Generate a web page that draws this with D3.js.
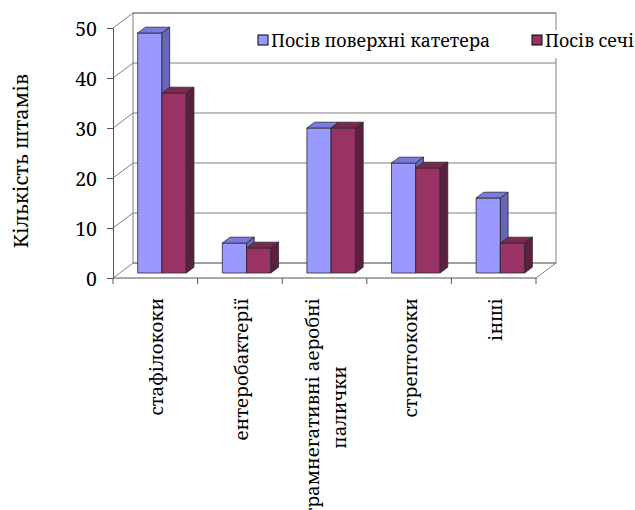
<!DOCTYPE html>
<html><head><meta charset="utf-8">
<script src="https://cdn.jsdelivr.net/npm/d3@7"></script>
<style>body{margin:0;background:#fff}svg{display:block}text{font-family:"Noto Serif","DejaVu Serif",serif;fill:#000}</style>
</head><body>
<svg id="c" width="635" height="510"></svg>
<script>
const categories = ["стафілококи","ентеробактерії","грамнегативні аеробні\nпалички","стрептококи","інші"];
const seriesNames = ["Посів поверхні катетера","Посів сечі"];
const catheter = [48, 6, 29, 22, 15];
const urine = [36, 5, 29, 21, 6];
const yTicks = [0,10,20,30,40,50];
const yTitle = "Кількість штамів";

const colors = [
  {front:"#9999FF", top:"#7A7AE0", side:"#6666BB"},
  {front:"#993366", top:"#7A2952", side:"#5C1F3D"}
];
const values = [catheter, urine];
const FS_TICK = 19.5, FS_LEG = 17.8, FS_CAT = 18.7, FS_TITLE = 20;

const svg = d3.select("#c");
const DX = 20, DY = 15;
const y = d3.scaleLinear().domain([0,50]).range([278,28]);
const x = d3.scaleBand().domain(categories).range([113,536]);
const inner = d3.scaleBand().domain(seriesNames).range([x.bandwidth()*0.213, x.bandwidth()*0.787]);
const P = (px, py, z) => [px + z*DX, py - z*DY];
const line = d3.line();

const grid = "#808080";
svg.append("rect").attr("x",113+DX).attr("y",y(50)-DY).attr("width",536-113).attr("height",y(0)-y(50))
  .attr("fill","#fff").attr("stroke",grid);
svg.selectAll(".g").data(yTicks).join("line")
  .attr("x1",113+DX).attr("x2",536+DX).attr("y1",d=>y(d)-DY).attr("y2",d=>y(d)-DY).attr("stroke",grid);
svg.selectAll(".d").data(yTicks).join("line")
  .attr("x1",113).attr("x2",113+DX).attr("y1",d=>y(d)).attr("y2",d=>y(d)-DY).attr("stroke",grid);
svg.append("path").attr("d",line([[536,y(0)],[536+DX,y(0)-DY]])).attr("stroke",grid).attr("fill","none");

const yAxis = d3.axisLeft(y).tickValues(yTicks).tickSize(6).tickPadding(10);
const ya = svg.append("g").attr("transform","translate(113,0)").call(yAxis);
ya.attr("font-family",null);
ya.select(".domain").attr("stroke","#555");
ya.selectAll(".tick line").attr("stroke","#555");
ya.selectAll(".tick text").attr("font-size",FS_TICK).attr("fill","#000").attr("dy","0.4em");

const xa = svg.append("g").attr("transform",`translate(0,${y(0)})`)
  .call(d3.axisBottom(x).tickSize(6).tickFormat(""));
xa.select(".domain").attr("stroke","#555").attr("d",`M113,0H536`);
xa.selectAll(".tick").remove();
const bounds = d3.range(categories.length+1).map(i => 113 + i*x.step());
xa.selectAll(".bt").data(bounds).join("line").attr("x1",d=>d).attr("x2",d=>d).attr("y1",0).attr("y2",6).attr("stroke","#555");

const z0 = 1/3, z1 = 0.72;
categories.forEach((c,ci) => {
  seriesNames.forEach((s,si) => {
    const v = values[si][ci];
    const xl = x(c) + inner(s), xr = xl + inner.bandwidth();
    const yt = y(v), yb = y(0);
    const g = svg.append("g").attr("stroke","#2b2b2b").attr("stroke-width",0.8).attr("stroke-linejoin","round");
    const A = P(xl,yt,z0), B = P(xr,yt,z0), C = P(xr,yb,z0), D = P(xl,yb,z0);
    const A2 = P(xl,yt,z1), B2 = P(xr,yt,z1), C2 = P(xr,yb,z1);
    g.append("path").attr("d",line([A,B,C,D])+"Z").attr("fill",colors[si].front);
    g.append("path").attr("d",line([A,A2,B2,B])+"Z").attr("fill",colors[si].top);
    g.append("path").attr("d",line([B,B2,C2,C])+"Z").attr("fill",colors[si].side);
  });
});

categories.forEach(c => {
  const lines = c.split("\n");
  const cx = x(c) + x.bandwidth()/2;
  const sp = 27;
  const bx = cx + 8 - (lines.length-1)*sp/2;
  const t = svg.append("text").attr("font-size",FS_CAT).attr("text-anchor","end")
    .attr("transform",`translate(${bx},298) rotate(-90)`).text(lines[0]);
  const len = t.node().getComputedTextLength();
  lines.slice(1).forEach((l,i) => {
    svg.append("text").attr("font-size",FS_CAT).attr("text-anchor","middle")
      .attr("transform",`translate(${bx + (i+1)*sp},298) rotate(-90)`)
      .attr("x",-len/2).text(l);
  });
});

svg.append("text").attr("font-size",FS_TITLE).attr("text-anchor","middle")
  .attr("transform","translate(28,161) rotate(-90)").text(yTitle);

const lg = svg.append("g");
lg.append("rect").attr("x",252).attr("y",30).attr("width",383).attr("height",28).attr("fill","#fff");
const lx = [258, 532];
seriesNames.forEach((s,i) => {
  lg.append("rect").attr("x",lx[i]).attr("y",35).attr("width",10).attr("height",10)
    .attr("fill",colors[i].front).attr("stroke","#000").attr("stroke-width",1);
  lg.append("text").attr("x",lx[i]+13).attr("y",47).attr("font-size",FS_LEG).text(s);
});
</script>
</body></html>
